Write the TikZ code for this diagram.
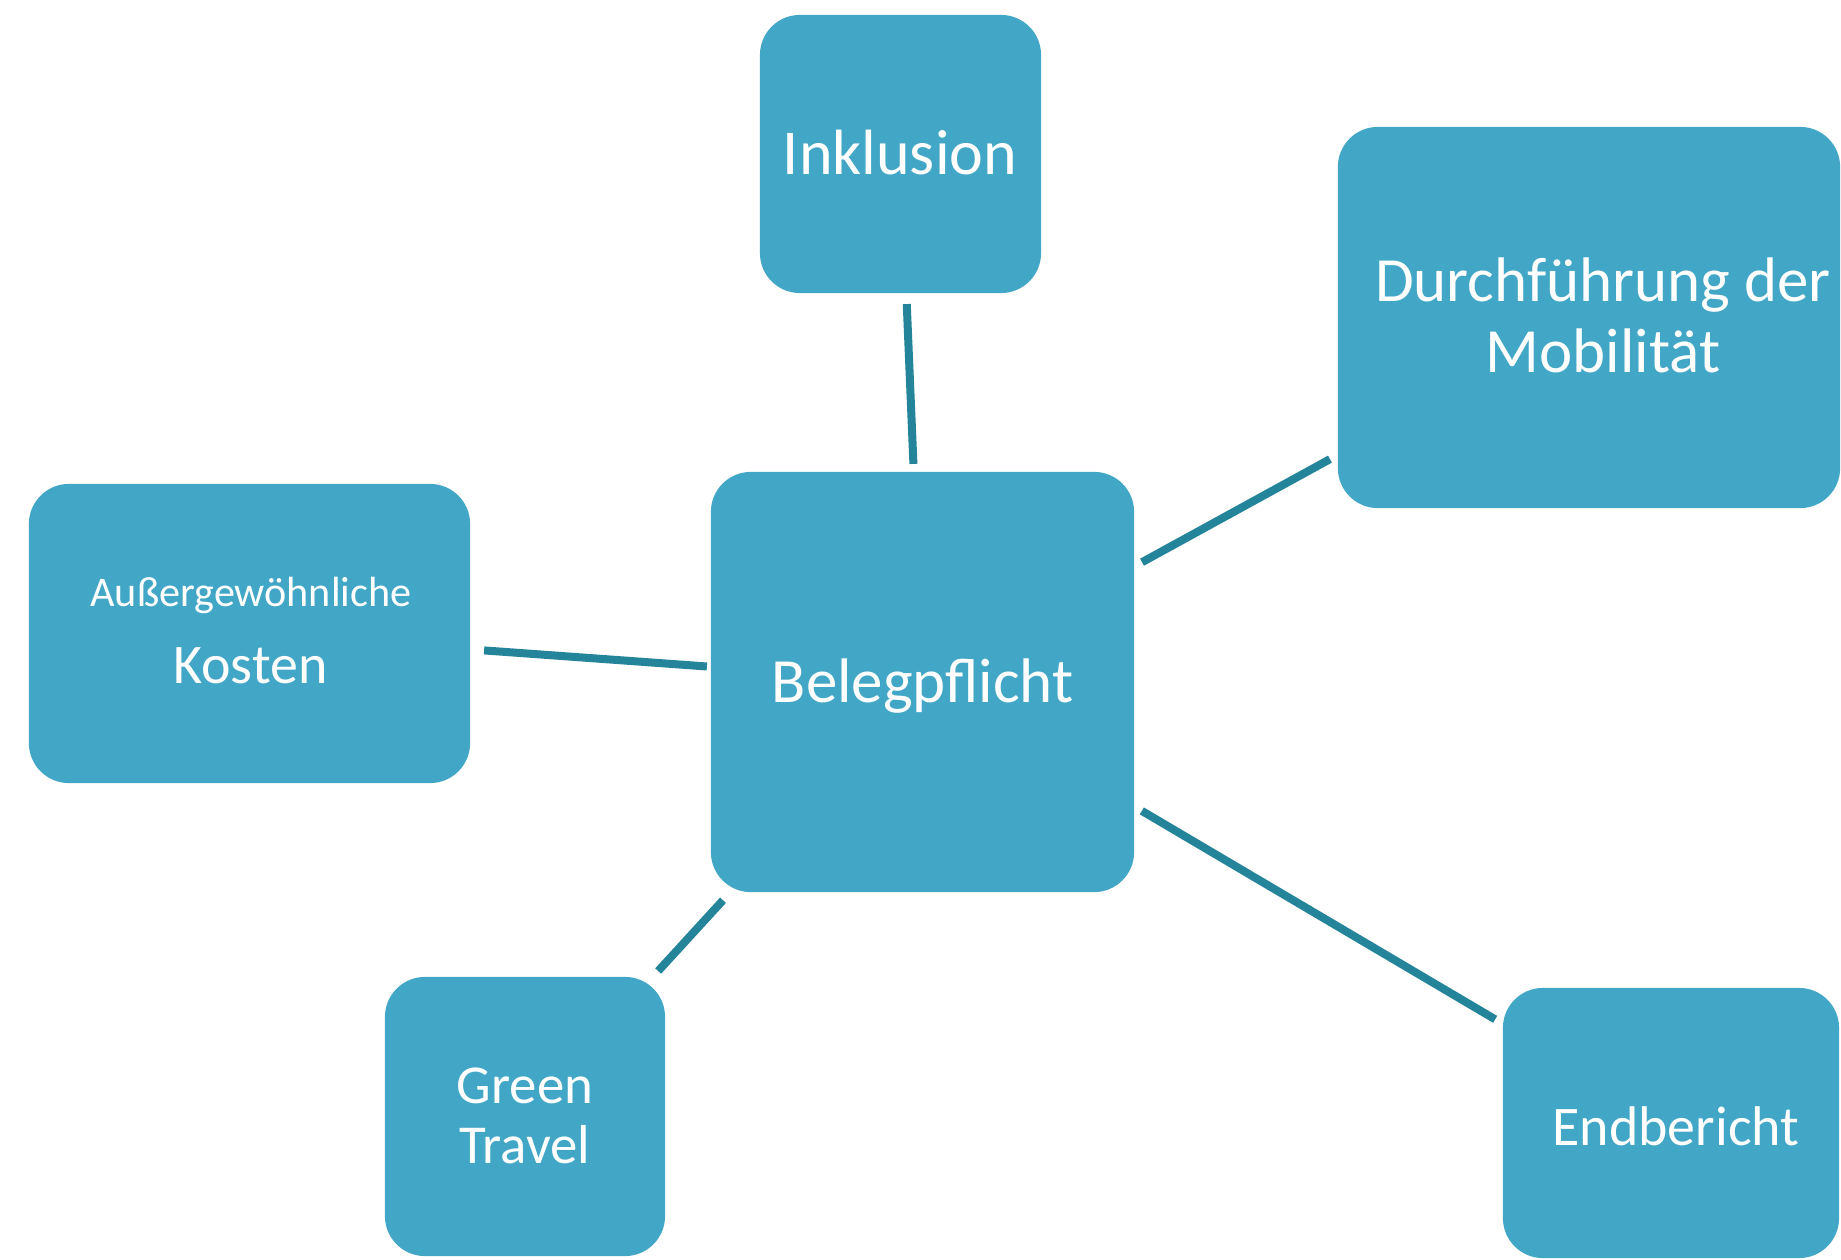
\documentclass[tikz,border=0pt]{standalone}
\usepackage{fontspec}
\setmainfont{Carlito}
\definecolor{boxblue}{HTML}{42A7C6}
\definecolor{linkteal}{HTML}{24849A}
\begin{document}
\begin{tikzpicture}[x=0.01cm,y=-0.01cm,
  box/.style={fill=boxblue, draw=none, rounded corners=0.4cm, inner sep=0pt, outer sep=0pt},
  lbl/.style={text=white, anchor=base, inner sep=0pt},
  link/.style={draw=linkteal, line width=0.08cm, shorten >=0.09cm, shorten <=0.09cm}]
\useasboundingbox (0,0) rectangle (1841,1260);
\fill[white] (0,0) rectangle (1841,1260);

% boxes
\node[box, minimum width=2.81cm, minimum height=2.78cm] (ink) at (900.5,154) {};
\node[box, minimum width=5.02cm, minimum height=3.81cm] (dur) at (1589,317.5) {};
\node[box, minimum width=4.41cm, minimum height=2.99cm] (kos) at (249.5,633.5) {};
\node[box, minimum width=4.23cm, minimum height=4.20cm] (bel) at (922.5,682) {};
\node[box, minimum width=2.80cm, minimum height=2.79cm] (gre) at (525,1116.5) {};
\node[box, minimum width=3.36cm, minimum height=2.70cm] (end) at (1671,1123) {};

% texts
\node[lbl, font=\fontsize{18.2}{20}\selectfont] (tink) at (900,174) {Inklusion};
\node[lbl, font=\fontsize{17.9}{20}\selectfont] (tdur1) at (1603,301) {Durchführung der};
\node[lbl, font=\fontsize{17.9}{20}\selectfont] (tdur2) at (1603,372) {Mobilität};
\node[lbl, font=\fontsize{17.9}{20}\selectfont] (tbel) at (922.5,702) {Belegpflicht};
\node[lbl, font=\fontsize{12}{14}\selectfont] (tkos1) at (251,606) {Außergewöhnliche};
\node[lbl, font=\fontsize{15.9}{18}\selectfont] (tkos2) at (250.5,683) {Kosten};
\node[lbl, font=\fontsize{15.6}{18}\selectfont] (tgre1) at (525,1103) {Green};
\node[lbl, font=\fontsize{15.6}{18}\selectfont] (tgre2) at (525,1163) {Travel};
\node[lbl, font=\fontsize{15.9}{18}\selectfont] (tend) at (1676,1145) {Endbericht};

% connectors
\draw[link, shorten <=0.11cm, shorten >=0.08cm] (ink) -- (bel);
\draw[link] (dur) -- (bel);
\draw[link, shorten <=0.14cm, shorten >=0.04cm] (kos) -- (bel);
\draw[link, shorten <=0.08cm, shorten >=0.11cm] (gre) -- (bel);
\draw[link] (end) -- (bel);
\end{tikzpicture}
\end{document}
